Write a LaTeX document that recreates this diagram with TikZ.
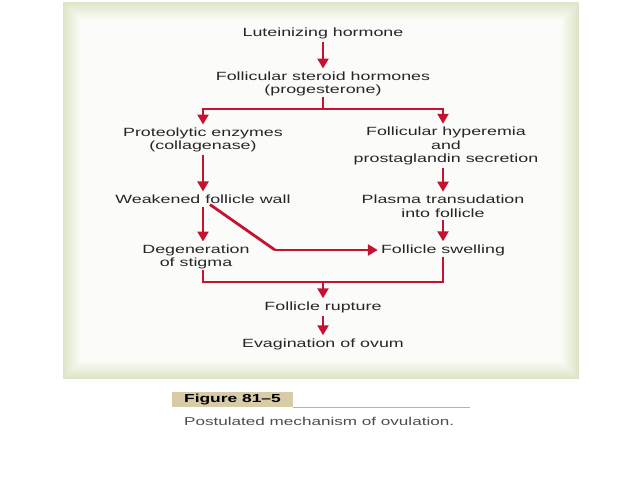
\documentclass[tikz,border=0pt]{standalone}
\usepackage{fontspec}
\setmainfont{Liberation Sans}[FakeStretch=1.5]
\usepackage{xcolor}
\usetikzlibrary{positioning,calc,arrows.meta}

\definecolor{flowred}{HTML}{C41230}
\definecolor{txtgrey}{HTML}{262626}
\definecolor{framegreen}{HTML}{DCE5C6}
\definecolor{tabtan}{HTML}{D8CBA8}

\tikzset{
  lbl/.style={align=center, inner sep=1pt, text=txtgrey, font=\fontsize{11.9}{13.5}\selectfont},
  link/.style={draw=flowred, line width=2.8pt},
  arr/.style={link, -{Triangle[width=11pt,length=10pt]}, shorten >=2pt, shorten <=2pt}
}

\begin{document}
\begin{tikzpicture}[x=1pt,y=-1pt]
\useasboundingbox (0,0) rectangle (638,479);
% soft green frame round the panel
\fill[framegreen] (63,2) rectangle (579,379);
\foreach \k in {1,...,18}
  \fill[framegreen!\the\numexpr 100-5*\k\relax!white] (63+\k,2+\k) rectangle (579-\k,379-\k);

% steps
\node[lbl] (lh)  at (323,33)  {Luteinizing hormone};
\node[lbl] (fsh) at (323,84)  {Follicular steroid hormones\\(progesterone)};
\node[lbl] (pe)  at (203,140) {Proteolytic enzymes\\(collagenase)};
\node[lbl] (fhp) at (446,146) {Follicular hyperemia\\and\\prostaglandin secretion};
\node[lbl] (wfw) at (203,199) {Weakened follicle wall};
\node[lbl] (pt)  at (443,206) {Plasma transudation\\into follicle};
\node[lbl] (ds)  at (196,257) {Degeneration\\of stigma};
\node[lbl] (fs)  at (443,250) {Follicle swelling};
\node[lbl] (fr)  at (323,307) {Follicle rupture};
\node[lbl] (eo)  at (323,344) {Evagination of ovum};

\coordinate (split) at (323,109);
\coordinate (join) at (323,282);
\coordinate (bend) at (275,250);

% connectors
\draw[arr] (lh) -- (fsh);
\draw[link] (fsh.south) -- (split);
\draw[arr, shorten <=0pt] (split) -| (pe.north);
\draw[arr, shorten <=0pt] (split) -| (pt.north|-fhp.north);
\draw[arr] (pe) -- (wfw);
\draw[arr] (fhp.south-|pt) -- (pt);
\draw[arr] (wfw) -- (wfw|-ds.north);
\draw[arr] (pt) -- (fs);
\draw[link] ($(wfw.south)+(7,0)$) -- (bend);
\draw[arr, shorten <=0pt] (bend) -- (fs.west);
\draw[link] (wfw|-ds.south) |- (join) -| (fs.south);
\draw[arr, shorten <=0pt] (join) -- (fr);
\draw[arr] (fr) -- (eo);

% caption
\fill[tabtan] (172,392) rectangle (293,407);
\node[text=black, font=\fontsize{11.6}{12}\bfseries, inner sep=0pt] (tab) at (232.5,400) {Figure 81--5};
\draw[black!30, line width=0.6pt] (293,407) -- (470,407);
\node[anchor=west, text=black!70, font=\fontsize{11.4}{12}\selectfont, inner sep=0pt] (cap) at (184,421) {Postulated mechanism of ovulation.};
\end{tikzpicture}
\end{document}
